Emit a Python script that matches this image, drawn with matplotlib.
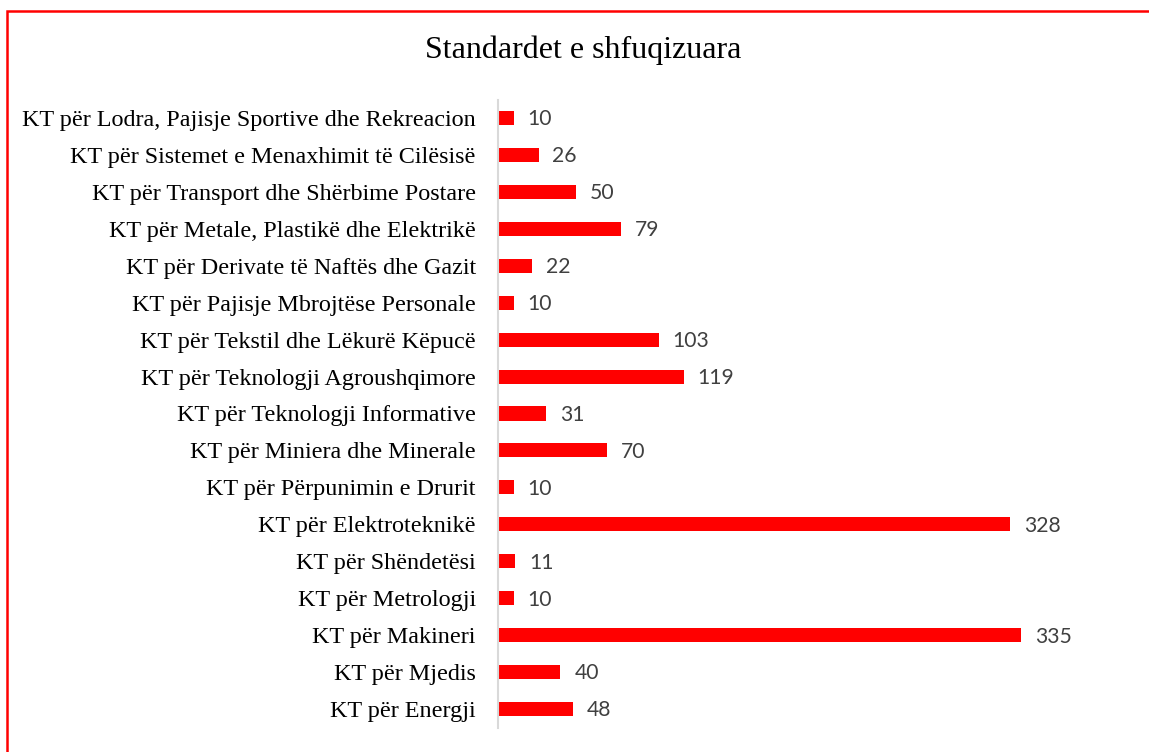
import matplotlib.pyplot as plt
from matplotlib.patches import Rectangle

# Data (top to bottom)
categories = ['KT për Lodra, Pajisje Sportive dhe Rekreacion',
              'KT për Sistemet e Menaxhimit të Cilësisë',
              'KT për Transport dhe Shërbime Postare',
              'KT për Metale, Plastikë dhe Elektrikë',
              'KT për Derivate të Naftës dhe Gazit',
              'KT për Pajisje Mbrojtëse Personale',
              'KT për Tekstil dhe Lëkurë Këpucë',
              'KT për Teknologji Agroushqimore',
              'KT për Teknologji Informative',
              'KT për Miniera dhe Minerale',
              'KT për Përpunimin e Drurit',
              'KT për Elektroteknikë',
              'KT për Shëndetësi',
              'KT për Metrologji',
              'KT për Makineri',
              'KT për Mjedis',
              'KT për Energji']
values = [10, 26, 50, 79, 22, 10, 103, 119, 31, 70, 10, 328, 11, 10, 335, 40, 48]
title = 'Standardet e shfuqizuara'

fig = plt.figure(figsize=(11.49, 7.52), dpi=100)
ax = fig.add_axes([498 / 1149, 1 - 727.5 / 752, (1100 - 498) / 1149, 628 / 752])

y = list(range(len(categories)))
bars = ax.barh(y, values, height=0.38, color='#ff0000')
ax.set_ylim(len(categories) - 0.5, -0.5)
ax.set_xlim(0, 385.6)

for b, v in zip(bars, values):
    ax.annotate(str(v), (b.get_width(), b.get_y() + b.get_height() / 2),
                xytext=(10, -1), textcoords='offset points', va='center', ha='left',
                fontsize=15.2, color='#404040', family='Lato')

ax.set_yticks(y)
ax.set_yticklabels(categories, family='Liberation Serif', fontsize=17.4, color='black')
ax.tick_params(axis='y', length=0, pad=16)
ax.set_xticks([])
for s in ['top', 'right', 'bottom']:
    ax.spines[s].set_visible(False)
ax.spines['left'].set_color('#d9d9d9')
ax.spines['left'].set_linewidth(1.5)

fig.text(583 / 1149, 1 - 50 / 752, title, ha='center', va='center',
         family='Liberation Serif', fontsize=23)

# red frame around the chart (cut off on right and bottom)
fig.patches.append(Rectangle((7 / 1149, -0.05), 1.1, 0.05 + 1 - 11 / 752, transform=fig.transFigure,
                             fill=False, edgecolor='#ff0000', linewidth=1.8, clip_on=False))

fig.savefig('out.png', dpi=100)
